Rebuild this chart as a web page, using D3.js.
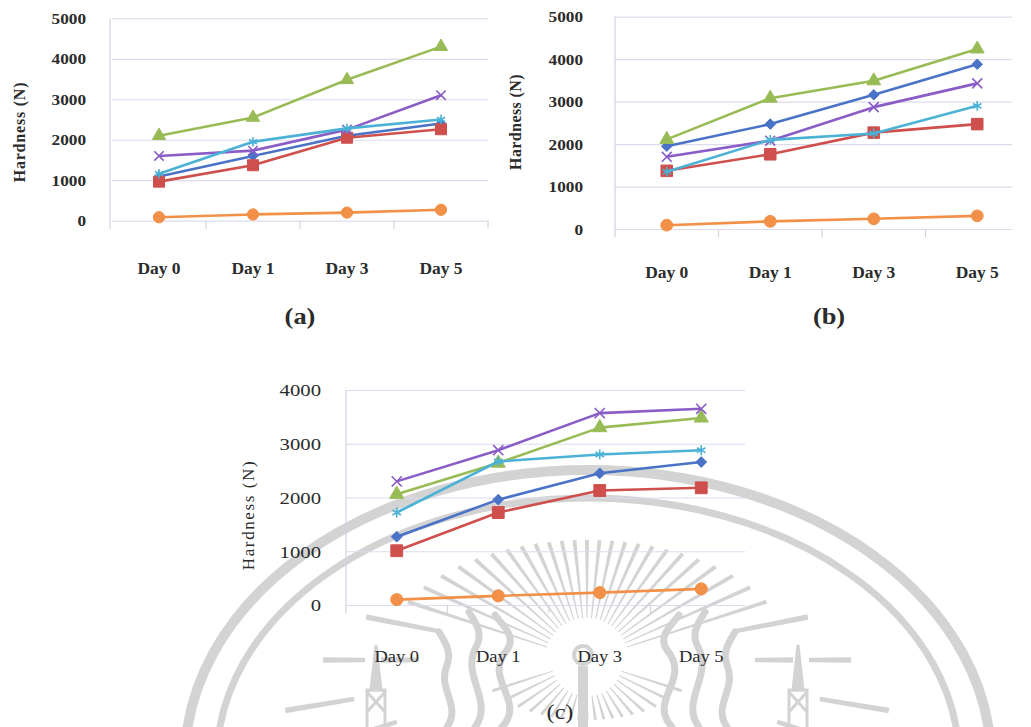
<!DOCTYPE html>
<html>
<head>
<meta charset="utf-8">
<script src="https://cdn.jsdelivr.net/npm/d3@7"></script>
<style>
  html, body { margin: 0; padding: 0; background: #ffffff; }
  svg { display: block; }
</style>
</head>
<body>
<svg id="fig" width="1031" height="727"></svg>
<script>
// ---- data -------------------------------------------------------------
const days = ["Day 0", "Day 1", "Day 3", "Day 5"];
const ticksA = [0, 1000, 2000, 3000, 4000, 5000];
const ticksB = [0, 1000, 2000, 3000, 4000, 5000];
const ticksC = [0, 1000, 2000, 3000, 4000];

// (a)
const aBlue   = [1090, 1600, 2100, 2400];
const aRed    = [965, 1370, 2050, 2260];
const aGreen  = [2100, 2550, 3480, 4300];
const aPurple = [1600, 1730, 2250, 3100];
const aCyan   = [1160, 1950, 2280, 2500];
const aOrange = [85, 155, 200, 270];

// (b)
const bBlue   = [1950, 2470, 3160, 3880];
const bRed    = [1370, 1760, 2270, 2470];
const bGreen  = [2110, 3080, 3490, 4240];
const bPurple = [1700, 2080, 2870, 3430];
const bCyan   = [1350, 2100, 2250, 2900];
const bOrange = [90, 180, 240, 310];

// (c)
const cBlue   = [1270, 1960, 2450, 2660];
const cRed    = [1010, 1720, 2130, 2180];
const cGreen  = [2060, 2640, 3300, 3480];
const cPurple = [2300, 2880, 3570, 3650];
const cCyan   = [1720, 2670, 2800, 2880];
const cOrange = [100, 170, 230, 300];

// ---- styles -----------------------------------------------------------
const seriesStyle = [
  { color: "#4a72c6", symbol: d3.symbolDiamond2, size: 64,  fill: true  },
  { color: "#cf4f4d", symbol: d3.symbolSquare,   size: 121, fill: true  },
  { color: "#99bb55", symbol: d3.symbolTriangle, size: 75,  fill: true  },
  { color: "#8a5cc6", symbol: d3.symbolTimes,    size: 60,  fill: false },
  { color: "#4bb2d6", symbol: d3.symbolAsterisk, size: 60,  fill: false },
  { color: "#f29048", symbol: d3.symbolCircle,   size: 100, fill: true  }
];
const GRID = "#dcdcec";
const AXIS = "#d2d2e0";
const FONT = "'Liberation Serif', 'Times New Roman', serif";
const INK = "#2b2b2b";
const WM = "#d3d3d3";

const svg = d3.select("#fig");

// ---- seal watermark (drawn under the charts) --------------------------
const wm = svg.append("g").attr("class", "watermark");
const sc = { x: 587, y: 660 };

wm.append("ellipse").attr("cx", 588).attr("cy", 760).attr("rx", 403).attr("ry", 290)
  .attr("fill", "none").attr("stroke", WM).attr("stroke-width", 10);
wm.append("ellipse").attr("cx", 588).attr("cy", 760).attr("rx", 371).attr("ry", 262)
  .attr("fill", "none").attr("stroke", WM).attr("stroke-width", 7);

function rayPoly(angDeg, r0, r1, w0, w1) {
  const a = angDeg * Math.PI / 180, c = Math.cos(a), s = Math.sin(a);
  const nx = -s, ny = c;
  const p0 = [sc.x + r0 * c, sc.y + r0 * s], p1 = [sc.x + r1 * c, sc.y + r1 * s];
  return [
    [p0[0] + nx * w0 / 2, p0[1] + ny * w0 / 2],
    [p1[0] + nx * w1 / 2, p1[1] + ny * w1 / 2],
    [p1[0] - nx * w1 / 2, p1[1] - ny * w1 / 2],
    [p0[0] - nx * w0 / 2, p0[1] - ny * w0 / 2]
  ].map(p => p.join(",")).join(" ");
}
function ellipseR(angDeg, rx, ry) {
  const a = angDeg * Math.PI / 180;
  return 1 / Math.sqrt((Math.cos(a) / rx) ** 2 + (Math.sin(a) / ry) ** 2);
}
// upper sun rays
const upperAngles = d3.range(-162, -17, 6);
wm.selectAll("polygon.up").data(upperAngles).join("polygon").attr("class", "up")
  .attr("points", a => rayPoly(a, 42, ellipseR(a, 205, 120), 1, 4))
  .attr("fill", WM);
// lower short rays
const lowerAngles = d3.range(18, 165, 8);
wm.selectAll("polygon.low").data(lowerAngles).join("polygon").attr("class", "low")
  .attr("points", a => rayPoly(a, 36, ellipseR(a, 110, 60), 1, 3))
  .attr("fill", WM);
// long side bars
const bars = [
  { a: -11, r0: 150, r1: 225 }, { a: 0, r0: 168, r1: 206 }, { a: 0, r0: 222, r1: 264 },
  { a: 9.5, r0: 236, r1: 306 }, { a: 18, r0: 200, r1: 272 }
];
const barData = bars.flatMap(b => [b, { a: 180 - b.a, r0: b.r0, r1: b.r1 }]);
wm.selectAll("polygon.bar").data(barData).join("polygon").attr("class", "bar")
  .attr("points", b => rayPoly(b.a, b.r0, b.r1, 4.5, 5.5))
  .attr("fill", WM);
// pagodas
[sc.x - 211, sc.x + 211].forEach(px => {
  const g = wm.append("g").attr("fill", "none").attr("stroke", WM).attr("stroke-width", 3);
  g.append("path").attr("d", `M${px},645 L${px - 5},690 L${px + 5},690 Z`).attr("fill", WM);
  g.append("rect").attr("x", px - 9).attr("y", 690).attr("width", 18).attr("height", 40);
  g.append("path").attr("d", `M${px - 9},692 L${px + 9},712 M${px + 9},692 L${px - 9},712`);
});
// flames
[-1, 1].forEach(side => {
  const fx = v => sc.x + side * v;
  const g = wm.append("g").attr("fill", "none").attr("stroke", WM)
    .attr("stroke-width", 7).attr("stroke-linecap", "round");
  g.append("path").attr("d",
    `M${fx(85)},727 C${fx(60)},700 ${fx(105)},680 ${fx(80)},650 C${fx(70)},636 ${fx(85)},625 ${fx(92)},615`);
  g.append("path").attr("d",
    `M${fx(112)},727 C${fx(92)},700 ${fx(128)},675 ${fx(110)},645 C${fx(104)},632 ${fx(112)},622 ${fx(118)},612`);
  g.append("path").attr("d",
    `M${fx(140)},727 C${fx(125)},705 ${fx(150)},690 ${fx(140)},665 C${fx(135)},652 ${fx(142)},642 ${fx(148)},632`);
});
// central staff
wm.append("circle").attr("cx", sc.x - 4).attr("cy", 655).attr("r", 9)
  .attr("fill", "none").attr("stroke", WM).attr("stroke-width", 4);
wm.append("rect").attr("x", sc.x - 9).attr("y", 666).attr("width", 10).attr("height", 70).attr("fill", WM);

// ---- chart panels ------------------------------------------------------
const panels = [
  {
    values: [aBlue, aRed, aGreen, aPurple, aCyan, aOrange], ticks: ticksA, yMax: 5000,
    x0: 112, x1: 488, gridEnd: 488, yBottom: 220.7, yTop: 18.3, axisX: 110,
    tickLabelRight: 86, xLabelY: 274, tickDown: 8,
    titleX: 19, titleY: 132, titleSpacing: 0.8,
    label: "(a)", labelX: 300, labelY: 324,
    weight: "bold", tickFont: 15, dayFont: 16, titleFont: 16, labelFont: 24, sx: 1.15, markScale: 1
  },
  {
    values: [bBlue, bRed, bGreen, bPurple, bCyan, bOrange], ticks: ticksB, yMax: 5000,
    x0: 615, x1: 1029, gridEnd: 1012, yBottom: 229, yTop: 16.7, axisX: 615,
    tickLabelRight: 583, xLabelY: 278, tickDown: 8,
    titleX: 515, titleY: 122, titleSpacing: 0.4,
    label: "(b)", labelX: 829, labelY: 324,
    weight: "bold", tickFont: 15, dayFont: 16, titleFont: 16, labelFont: 24, sx: 1.15, markScale: 1.1
  },
  {
    values: [cBlue, cRed, cGreen, cPurple, cCyan, cOrange], ticks: ticksC, yMax: 4000,
    x0: 346, x1: 752, gridEnd: 745, yBottom: 605, yTop: 390, axisX: 346,
    tickLabelRight: 321, xLabelY: 662, tickDown: 8,
    titleX: 248, titleY: 515, titleSpacing: 1.6,
    label: "(c)", labelX: 560, labelY: 719,
    weight: "normal", tickFont: 17, dayFont: 16, titleFont: 17, labelFont: 22, sx: 1.22, markScale: 1.15
  }
];

panels.forEach(p => {
  const g = svg.append("g");
  const x = d3.scaleBand().domain(days).range([p.x0, p.x1]);
  const y = d3.scaleLinear().domain([0, p.yMax]).range([p.yBottom, p.yTop]);
  const cx = d => x(d) + x.bandwidth() / 2;

  // horizontal gridlines and value labels
  const yAxis = d3.axisLeft(y).tickValues(p.ticks).tickFormat(d3.format("d"))
    .tickSize(-(p.gridEnd - p.x0)).tickPadding(p.x0 - p.tickLabelRight);
  const ya = g.append("g").attr("transform", `translate(${p.x0},0)`).call(yAxis);
  ya.select(".domain").remove();
  ya.selectAll(".tick line").attr("stroke", GRID).attr("stroke-width", 1.2);
  ya.selectAll(".tick text")
    .attr("x", null).attr("dy", null)
    .attr("transform", `translate(${p.tickLabelRight - p.x0},${p.tickFont * 0.34}) scale(${p.sx},1)`)
    .attr("fill", INK).attr("font-family", FONT).attr("font-size", p.tickFont)
    .attr("font-weight", p.weight).attr("text-anchor", "end");

  // vertical axis line and category tick marks
  g.append("line").attr("x1", p.axisX).attr("x2", p.axisX)
    .attr("y1", p.yTop).attr("y2", p.yBottom + p.tickDown)
    .attr("stroke", AXIS).attr("stroke-width", 1.2);
  const bounds = days.map(d => x(d)).slice(1).concat([p.x1]).filter(v => v <= p.gridEnd + 1);
  g.selectAll("line.cat").data(bounds).join("line").attr("class", "cat")
    .attr("x1", d => d).attr("x2", d => d)
    .attr("y1", y(0)).attr("y2", y(0) + p.tickDown)
    .attr("stroke", AXIS).attr("stroke-width", 1.2);

  // category labels
  g.selectAll("text.day").data(days).join("text").attr("class", "day")
    .attr("transform", d => `translate(${cx(d)},${p.xLabelY}) scale(${p.sx * 0.95},1)`)
    .attr("text-anchor", "middle").attr("fill", INK)
    .attr("font-family", FONT).attr("font-size", p.dayFont).attr("font-weight", p.weight)
    .text(d => d);

  // y title
  g.append("text")
    .attr("transform", `translate(${p.titleX},${p.titleY}) rotate(-90)`)
    .attr("text-anchor", "middle").attr("dy", "0.35em").attr("fill", INK)
    .attr("font-family", FONT).attr("font-size", p.titleFont).attr("font-weight", p.weight)
    .attr("letter-spacing", p.titleSpacing)
    .text("Hardness (N)");

  // panel label
  g.append("text")
    .attr("transform", `translate(${p.labelX},${p.labelY}) scale(1.1,1)`)
    .attr("text-anchor", "middle").attr("fill", INK)
    .attr("font-family", FONT).attr("font-size", p.labelFont).attr("font-weight", p.weight)
    .text(p.label);

  // series lines and markers
  const line = d3.line().x((d, i) => cx(days[i])).y(d => y(d));
  p.values.forEach((vals, si) => {
    const st = seriesStyle[si];
    g.append("path").datum(vals).attr("d", line)
      .attr("fill", "none").attr("stroke", st.color).attr("stroke-width", 2.6)
      .attr("stroke-linejoin", "round");
    const sym = d3.symbol().type(st.symbol).size(st.size * p.markScale);
    g.selectAll(null).data(vals).join("path")
      .attr("transform", (d, i) => `translate(${cx(days[i])},${y(d)})`)
      .attr("d", sym)
      .attr("fill", st.fill ? st.color : "none")
      .attr("stroke", st.color)
      .attr("stroke-width", st.fill ? 1 : 1.6);
  });
});
</script>
</body>
</html>
